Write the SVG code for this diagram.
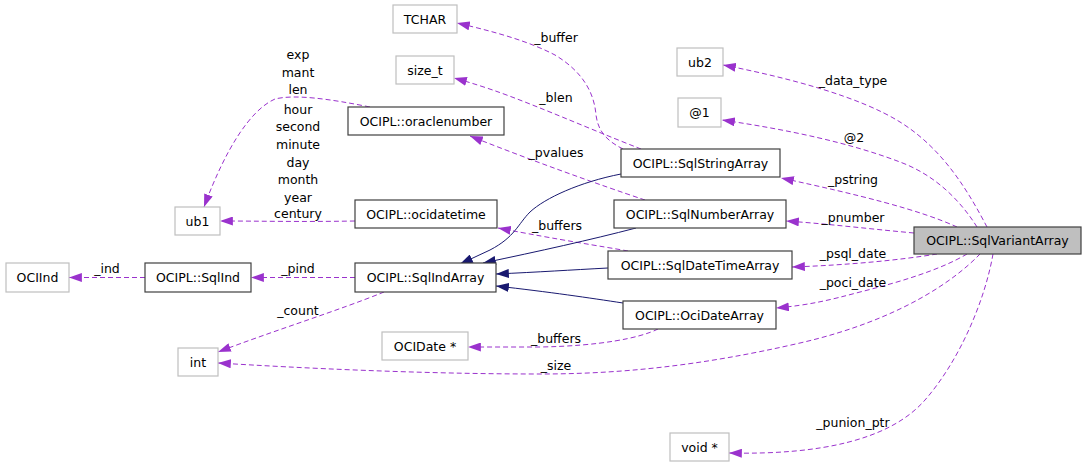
<svg xmlns="http://www.w3.org/2000/svg" width="1085" height="465" viewBox="0 0 1085 465">
<style>
text{font-family:"DejaVu Sans","Liberation Sans",sans-serif;font-size:12.5px;fill:#000;text-anchor:middle}
.n rect{fill:#fff;stroke:#404040;stroke-width:1.2}
.g rect{fill:#fff;stroke:#bfbfbf;stroke-width:1.2}
.cur rect{fill:#bfbfbf;stroke:#404040;stroke-width:1.2}
.u{fill:none;stroke:#9a32cd;stroke-width:1;stroke-dasharray:5,3;marker-end:url(#pa)}
.i{fill:none;stroke:#191970;stroke-width:1;marker-end:url(#na)}
</style>
<defs>
<marker id="pa" viewBox="0 0 10 7" refX="10" refY="3.5" markerWidth="13" markerHeight="9" markerUnits="userSpaceOnUse" orient="auto"><path d="M0,0 L10,3.5 L0,7 z" fill="#9a32cd"/></marker>
<marker id="na" viewBox="0 0 10 7" refX="10" refY="3.5" markerWidth="13" markerHeight="9" markerUnits="userSpaceOnUse" orient="auto"><path d="M0,0 L10,3.5 L0,7 z" fill="#191970"/></marker>
</defs>
<rect width="1085" height="465" fill="#fff"/>
<g id="connectors">
<path class="u" d="M987,227 C970,195 945,150 900,122 C860,97 790,78 723,65"/>
<path class="u" d="M977,227 C960,200 935,175 900,162 C850,143 790,130 722,120"/>
<path class="u" d="M957,227 C920,210 860,195 781,178"/>
<path class="u" d="M914,233 C870,229 830,224 786,221"/>
<path class="u" d="M937,254 C900,260 850,265 792,267"/>
<path class="u" d="M967,254 C940,270 900,282 860,292 C830,300 810,305 776,308"/>
<path class="u" d="M980,254 C955,280 900,320 800,343 C700,366 620,374 540,374 C420,374 300,368 218,363"/>
<path class="u" d="M993,254 C985,300 960,360 925,400 C890,440 820,455 729,453"/>
<path class="u" d="M658,329 C640,338 600,346 540,347 L468,347"/>
<path class="u" d="M384,292 C340,310 270,332 218,352"/>
<path class="u" d="M355,277.5 L251,277.5"/>
<path class="u" d="M145,277.5 L69,277.5"/>
<path class="u" d="M355,221 C300,222 260,221 220,221"/>
<path class="u" d="M370,107 C330,99 295,94 275,99 C250,110 225,150 204,207"/>
<path class="u" d="M623,149 C605,140 598,130 596,115 C594,90 580,70 555,55 C530,42 500,33 457,23"/>
<path class="u" d="M641,149 C610,137 570,120 540,108 C515,98 490,88 454,78"/>
<path class="u" d="M645,200 C600,185 530,160 470,136"/>
<path class="u" d="M628,251 C600,246 560,240 498,228"/>
<path class="i" d="M621,174 C580,182 545,198 530,212 C518,224 515,237 490,250 L460,264"/>
<path class="i" d="M636,228 C590,240 540,251 483,263"/>
<path class="i" d="M608,268 C570,270 540,272 496,274"/>
<path class="i" d="M623,303 C590,298 550,292 496,286"/>
<text x="853" y="84.5">_data_type</text>
<text x="854" y="141.5">@2</text>
<text x="853" y="183.5">_pstring</text>
<text x="853" y="221.5">_pnumber</text>
<text x="853" y="257.5">_psql_date</text>
<text x="853" y="286.5">_poci_date</text>
<text x="556" y="369.5">_size</text>
<text x="853" y="426.5">_punion_ptr</text>
<text x="556" y="342.5">_buffers</text>
<text x="298" y="314.5">_count</text>
<text x="298" y="272.5">_pind</text>
<text x="107" y="272.5">_ind</text>
<text x="556" y="41.5">_buffer</text>
<text x="556" y="101.5">_blen</text>
<text x="556" y="156.5">_pvalues</text>
<text x="557" y="229.5">_buffers</text>
<text x="298" y="58.5">exp</text>
<text x="298" y="76.5">mant</text>
<text x="298" y="93.5">len</text>
<text x="298" y="113.5">hour</text>
<text x="298" y="130.5">second</text>
<text x="298" y="148.5">minute</text>
<text x="298" y="166.5">day</text>
<text x="298" y="183.5">month</text>
<text x="298" y="201.5">year</text>
<text x="298" y="217.5">century</text>
</g>
<g id="n_sqlvariantarray" class="cur"><rect x="914" y="227" width="167" height="27"/><text x="997.5" y="245">OCIPL::SqlVariantArray</text></g>
<g id="n_ub2" class="g"><rect x="677" y="48" width="46" height="28"/><text x="700" y="66.5">ub2</text></g>
<g id="n_at1" class="g"><rect x="678" y="98" width="43" height="29"/><text x="699.5" y="117">@1</text></g>
<g id="n_sqlstringarray" class="n"><rect x="621" y="149" width="159" height="28"/><text x="700.5" y="167.5">OCIPL::SqlStringArray</text></g>
<g id="n_sqlnumberarray" class="n"><rect x="614" y="200" width="172" height="28"/><text x="700" y="218.5">OCIPL::SqlNumberArray</text></g>
<g id="n_sqldatetimearray" class="n"><rect x="608" y="251" width="184" height="28"/><text x="700" y="269.5">OCIPL::SqlDateTimeArray</text></g>
<g id="n_ocidatearray" class="n"><rect x="623" y="301" width="153" height="28"/><text x="699.5" y="319.5">OCIPL::OciDateArray</text></g>
<g id="n_void" class="g"><rect x="670" y="433" width="59" height="28"/><text x="699.5" y="451.5">void *</text></g>
<g id="n_tchar" class="g"><rect x="393" y="5" width="64" height="28"/><text x="425" y="23.5">TCHAR</text></g>
<g id="n_size_t" class="g"><rect x="396" y="56" width="58" height="28"/><text x="425" y="74.5">size_t</text></g>
<g id="n_oraclenumber" class="n"><rect x="348" y="107" width="156" height="28"/><text x="426" y="125.5">OCIPL::oraclenumber</text></g>
<g id="n_ocidatetime" class="n"><rect x="355" y="200" width="142" height="28"/><text x="426" y="218.5">OCIPL::ocidatetime</text></g>
<g id="n_sqlindarray" class="n"><rect x="355" y="263" width="141" height="29"/><text x="425.5" y="282">OCIPL::SqlIndArray</text></g>
<g id="n_ocidate" class="g"><rect x="382" y="332" width="86" height="28"/><text x="425" y="350.5">OCIDate *</text></g>
<g id="n_ub1" class="g"><rect x="175" y="207" width="45" height="28"/><text x="197.5" y="225.5">ub1</text></g>
<g id="n_sqlind" class="n"><rect x="145" y="263" width="106" height="29"/><text x="198" y="282">OCIPL::SqlInd</text></g>
<g id="n_int" class="g"><rect x="178" y="348" width="40" height="28"/><text x="198" y="366.5">int</text></g>
<g id="n_ociind" class="g"><rect x="6" y="263" width="63" height="29"/><text x="37.5" y="282">OCIInd</text></g>
</svg>
